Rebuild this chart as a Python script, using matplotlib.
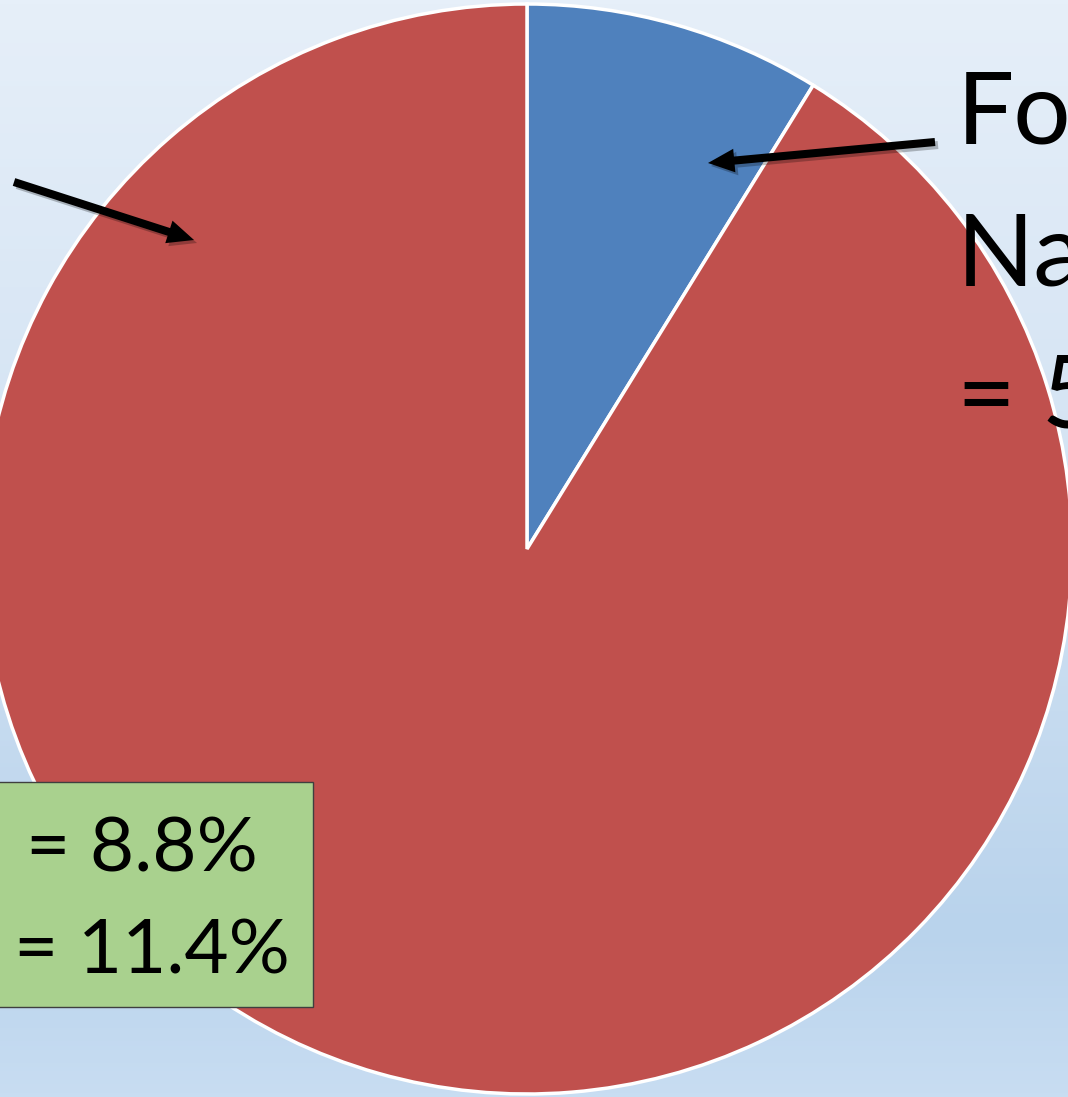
"""Pie chart share with callouts, cropped slide style."""

import matplotlib
matplotlib.use("Agg")
from matplotlib import pyplot as plt
from matplotlib.patches import FancyArrowPatch, Rectangle
from matplotlib.colors import LinearSegmentedColormap
import numpy as np

# data
shares = [8.8, 91.2]
slice_colors = ["#4f81bd", "#c0504d"]
right_label_lines = ["Fo", "Na", "= 5"]
box_lines = ["= 8.8%", "= 11.4%"]

W, H = 1068, 1097
fig = plt.figure(figsize=(W / 100, H / 100), dpi=100)
ax = fig.add_axes([0, 0, 1, 1])

# slide background gradient (light at top, deeper blue low down)
bg = LinearSegmentedColormap.from_list(
    "bg", [(0.0, "#e6eff9"), (0.45, "#d3e3f3"), (0.85, "#b9d3ec"), (1.0, "#c8ddf2")])
grad = np.linspace(0, 1, 256).reshape(-1, 1)
ax.imshow(grad, cmap=bg, aspect="auto", extent=(0, W, 0, H), origin="upper", zorder=0)

ax.pie(shares, colors=slice_colors, startangle=90, counterclock=False,
       center=(527, H - 549), radius=545,
       wedgeprops=dict(edgecolor="white", linewidth=2.5))

ax.set_xlim(0, W)
ax.set_ylim(0, H)
ax.set_aspect("equal")
ax.axis("off")


def arrow(x0, y0, x1, y1):
    style = "simple,tail_width=5.8,head_width=17,head_length=19"
    shadow = FancyArrowPatch((x0 + 3, H - y0 - 3), (x1 + 3, H - y1 - 3), arrowstyle=style,
                             mutation_scale=1, color="black", alpha=0.25, lw=0,
                             shrinkA=0, shrinkB=0, zorder=4)
    ax.add_patch(shadow)
    a = FancyArrowPatch((x0, H - y0), (x1, H - y1), arrowstyle=style, mutation_scale=1,
                        color="black", lw=0, shrinkA=0, shrinkB=0, zorder=5)
    ax.add_patch(a)


arrow(935, 142, 708, 163)
arrow(14, 182, 194, 240)

# labels on the right, cut off by the slide edge
for txt, base in zip(right_label_lines, [143, 285, 428]):
    ax.text(957, H - base, txt, fontsize=73, family="Lato", va="baseline", ha="left",
            color="black", zorder=6)

# green summary box
ax.add_patch(Rectangle((-10, H - 1007), 323, 225, facecolor="#a9d18e",
                       edgecolor="#3f3f3f", linewidth=1, zorder=6))
ax.text(26, H - 872, box_lines[0], fontsize=55, family="Lato", va="baseline", zorder=7)
ax.text(14, H - 973, box_lines[1], fontsize=55, family="Lato", va="baseline", zorder=7)

fig.savefig("out.png", dpi=100)
